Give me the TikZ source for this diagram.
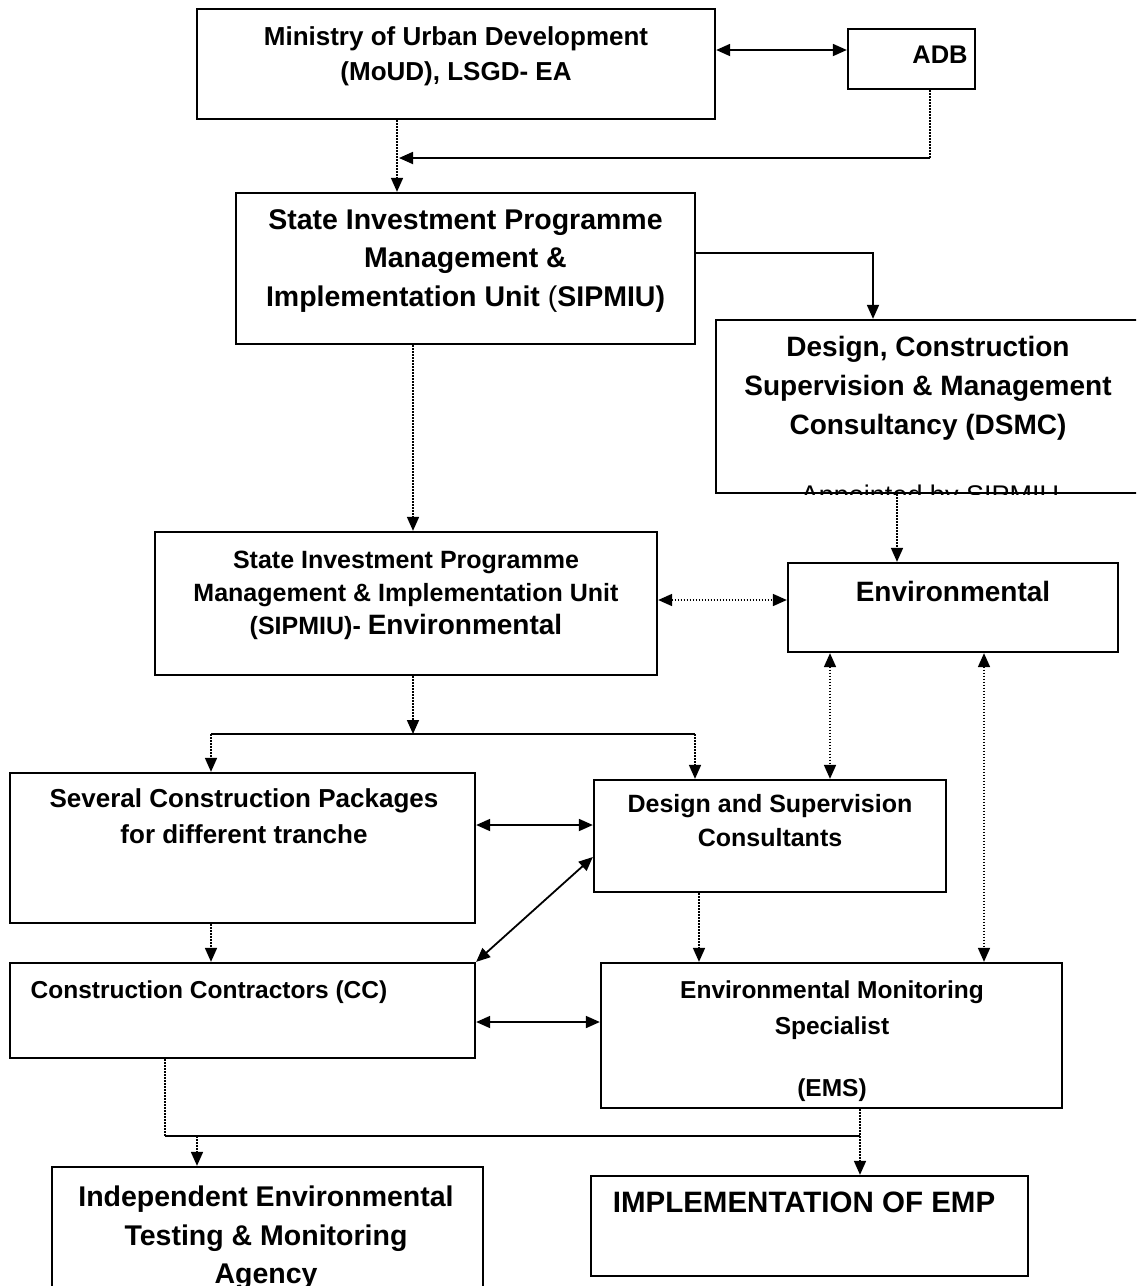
\documentclass[tikz,border=0pt]{standalone}
\usepackage{fontspec}
\setmainfont{Liberation Sans}
\usetikzlibrary{arrows.meta}
\newcommand{\myfs}[2]{\fontsize{#1pt}{#2pt}\selectfont\bfseries}
\tikzset{
  box/.style={draw=black, line width=2.3pt, inner sep=0pt, fill=white},
  lbl/.style={inner sep=0pt, align=center, anchor=north, text=black},
  solidl/.style={draw=black, line width=1.8pt},
  dotl/.style={draw=black, line width=1.7pt, dash pattern=on 1.6pt off 1.4pt},
  tip/.style={-{Triangle[length=14pt,width=12pt]}},
  tips/.style={{Triangle[length=14pt,width=12pt]}-{Triangle[length=14pt,width=12pt]}}
}
\begin{document}
\begin{tikzpicture}[x=1pt,y=-1pt]
\useasboundingbox (0,0) rectangle (1136,1286);
\clip (0,0) rectangle (1136,1286);
\fill[white] (0,0) rectangle (1136,1286);

% boxes
\node[box, minimum width=518pt, minimum height=110pt] (moud) at (456,64) {};
\node[box, minimum width=127pt, minimum height=60pt] (adb) at (911.5,59) {};
\node[box, minimum width=459pt, minimum height=151pt] (sip) at (465.5,268.5) {};
\node[box, minimum width=434pt, minimum height=173pt] (dsmc) at (933,406.5) {};
\node[box, minimum width=502pt, minimum height=143pt] (sipe) at (406,603.5) {};
\node[box, minimum width=330pt, minimum height=89pt] (env) at (953,607.5) {};
\node[box, minimum width=465pt, minimum height=150pt] (sev) at (242.5,848) {};
\node[box, minimum width=352pt, minimum height=112pt] (dsc) at (770,836) {};
\node[box, minimum width=465pt, minimum height=95pt] (cc) at (242.5,1010.5) {};
\node[box, minimum width=461pt, minimum height=145pt] (ems) at (831.5,1035.5) {};
\node[box, minimum width=431pt, minimum height=140pt] (ind) at (267.5,1237) {};
\node[box, minimum width=437pt, minimum height=100pt] (impl) at (809.5,1226) {};

% texts
\node[lbl, font=\myfs{26}{35}] (moudt) at (456,26) {Ministry of Urban Development\\(MoUD), LSGD- EA};
\node[lbl, font=\myfs{25.5}{30}] (adbt) at (940,46) {ADB};
\node[lbl, font=\myfs{28.5}{38.5}] (sipt) at (465.5,209) {State Investment Programme\\Management \&\\Implementation Unit {\mdseries(}SIPMIU)};
\node[lbl, font=\myfs{28}{39}] (dsmct) at (928,336) {Design, Construction\\Supervision \& Management\\Consultancy (DSMC)};
\begin{scope}
  \clip (dsmc.south west) rectangle (dsmc.north east);
  \node[lbl, font=\fontsize{27pt}{30pt}\selectfont] (appt) at (930,484.5) {Appointed by SIPMIU};
\end{scope}
\node[lbl, font=\myfs{25}{33}] (sipet) at (406,551) {State Investment Programme\\Management \& Implementation Unit\\(SIPMIU)- {\fontsize{28pt}{33pt}\selectfont Environmental}};
\node[lbl, font=\myfs{28}{32}] (envt) at (953,581) {Environmental};
\node[lbl, font=\myfs{26}{36}] (sevt) at (244,788) {Several Construction Packages\\for different tranche};
\node[lbl, font=\myfs{25}{34}] (dsct) at (770,794) {Design and Supervision\\Consultants};
\node[lbl, font=\myfs{24.5}{30}] (cct) at (209,981) {Construction Contractors (CC)};
\node[lbl, font=\myfs{24.5}{35.5}] (emst) at (832,981) {Environmental Monitoring\\Specialist\\[27pt](EMS)};
\node[lbl, font=\myfs{28.5}{38.5}] (indt) at (266,1186) {Independent Environmental\\Testing \& Monitoring\\Agency};
\node[lbl, font=\myfs{29.5}{32}] (implt) at (804,1192) {IMPLEMENTATION OF EMP};

% helper coordinates
\coordinate (r1) at (0,50);
\coordinate (j1) at (930,158);
\coordinate (v1) at (397,0);
\coordinate (v2) at (873,253);
\coordinate (v3) at (413,0);
\coordinate (v4) at (897,0);
\coordinate (r2) at (0,600);
\coordinate (v5) at (830,0);
\coordinate (v6) at (984,0);
\coordinate (h1) at (0,734);
\coordinate (v7) at (211,0);
\coordinate (v8) at (695,0);
\coordinate (r3) at (0,825);
\coordinate (r4) at (0,857);
\coordinate (v9) at (699,0);
\coordinate (r5) at (0,1022);
\coordinate (h2) at (0,1136);
\coordinate (v10) at (165,0);
\coordinate (v11) at (860,0);
\coordinate (v12) at (197,0);

% connectors
\draw[solidl, tips] (moud.east |- r1) -- (adb.west |- r1);
\draw[dotl] (adb.south -| j1) -- (j1);
\draw[solidl, tip] (j1) -- ([xshift=2pt]v1 |- j1);
\draw[dotl, tip] (moud.south -| v1) -- (sip.north -| v1);
\draw[solidl, tip] (sip.east |- v2) -| (dsmc.north -| v2);
\draw[dotl, tip] (sip.south -| v3) -- (sipe.north -| v3);
\draw[dotl, tip] (dsmc.south -| v4) -- (env.north -| v4);
\draw[dotl, tips] (sipe.east |- r2) -- (env.west |- r2);
\draw[dotl, tips] (env.south -| v5) -- (dsc.north -| v5);
\draw[dotl, tips] (env.south -| v6) -- (ems.north -| v6);
\draw[dotl, tip] (sipe.south -| v3) -- (v3 |- h1);
\draw[solidl] (v7 |- h1) -- (v8 |- h1);
\draw[dotl, tip] (v7 |- h1) -- (sev.north -| v7);
\draw[dotl, tip] (v8 |- h1) -- (dsc.north -| v8);
\draw[solidl, tips] (sev.east |- r3) -- (dsc.west |- r3);
\draw[solidl, tips] (dsc.west |- r4) -- (cc.north east);
\draw[dotl, tip] (sev.south -| v7) -- (cc.north -| v7);
\draw[dotl, tip] (dsc.south -| v9) -- (ems.north -| v9);
\draw[solidl, tips] (cc.east |- r5) -- (ems.west |- r5);
\draw[dotl] (cc.south -| v10) -- (v10 |- h2);
\draw[solidl] (v10 |- h2) -- (v11 |- h2);
\draw[dotl, tip] (ems.south -| v11) -- (impl.north -| v11);
\draw[dotl, tip] (v12 |- h2) -- (ind.north -| v12);
\end{tikzpicture}
\end{document}
